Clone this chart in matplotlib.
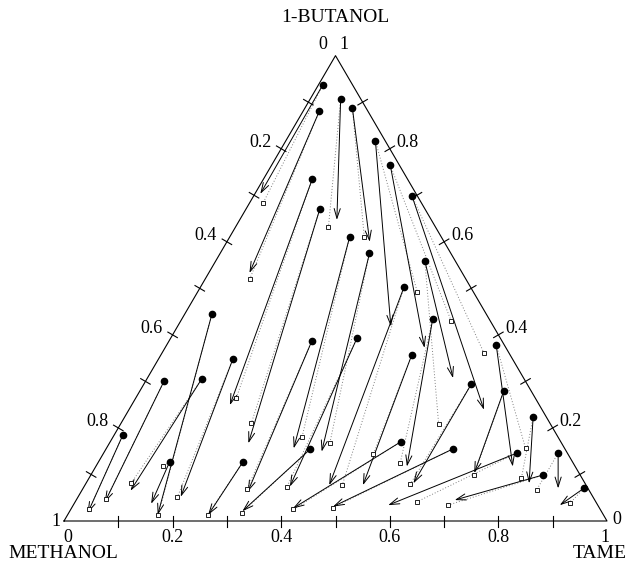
import numpy as np
import matplotlib.pyplot as plt

plt.rcParams['font.family'] = ['Liberation Serif', 'DejaVu Serif']

# mole fractions: (TAME, 1-BUTANOL); methanol = 1 - both
# start = filled dots, end = arrow heads, calc = open squares
start_tame = [0.008, 0.056, 0.087, 0.030, 0.165, 0.219, 0.292, 0.090, 0.136,
              0.221, 0.275, 0.385, 0.375, 0.462, 0.263, 0.343, 0.462, 0.376,
              0.535, 0.607, 0.603, 0.670, 0.752, 0.639, 0.761, 0.837, 0.833,
              0.922, 0.050, 0.034, 0.101, 0.137, 0.016, 0.131, 0.266]
start_but = [0.938, 0.907, 0.888, 0.880, 0.817, 0.764, 0.698, 0.734, 0.670,
             0.610, 0.575, 0.559, 0.502, 0.434, 0.387, 0.394, 0.357, 0.154,
             0.170, 0.378, 0.294, 0.280, 0.224, 0.155, 0.146, 0.146, 0.099,
             0.070, 0.445, 0.300, 0.306, 0.348, 0.185, 0.127, 0.126]
end_tame = [0.010, 0.179, 0.263, 0.075, 0.393, 0.478, 0.654, 0.181, 0.256,
            0.345, 0.400, 0.563, 0.450, 0.573, 0.307, 0.379, 0.512, 0.318,
            0.408, 0.768, 0.603, 0.704, 0.816, 0.480, 0.580, 0.875, 0.697,
            0.896, 0.166, 0.055, 0.090, 0.189, 0.035, 0.142, 0.259]
end_but = [0.703, 0.647, 0.600, 0.533, 0.418, 0.372, 0.239, 0.249, 0.167,
           0.156, 0.149, 0.307, 0.077, 0.117, 0.063, 0.074, 0.077, 0.021,
           0.027, 0.117, 0.081, 0.103, 0.081, 0.031, 0.034, 0.070, 0.045,
           0.034, 0.013, 0.040, 0.065, 0.052, 0.017, 0.037, 0.013]
calc_tame = [0.025, 0.171, 0.248, 0.082, 0.404, 0.498, 0.592, 0.185, 0.240,
             0.348, 0.406, 0.586, 0.474, 0.557, 0.303, 0.374, 0.498, 0.318,
             0.410, 0.772, 0.598, 0.706, 0.796, 0.481, 0.629, 0.837, 0.690,
             0.913, 0.167, 0.054, 0.083, 0.183, 0.034, 0.124, 0.258]
calc_but = [0.683, 0.632, 0.610, 0.520, 0.493, 0.430, 0.362, 0.265, 0.210,
            0.181, 0.167, 0.208, 0.077, 0.124, 0.068, 0.072, 0.143, 0.018,
            0.025, 0.156, 0.079, 0.099, 0.093, 0.029, 0.041, 0.067, 0.034,
            0.039, 0.013, 0.047, 0.081, 0.052, 0.025, 0.118, 0.013]

tick_vals = [0.1, 0.2, 0.3, 0.4, 0.5, 0.6, 0.7, 0.8, 0.9]
label_vals = [0.2, 0.4, 0.6, 0.8]

H = 0.857  # height of the drawn triangle relative to its base
PX = 1 / 543.0  # one pixel in data units


def xy(tame, but):
    tame = np.asarray(tame, dtype=float)
    but = np.asarray(but, dtype=float)
    return tame + but / 2, but * H


fig = plt.figure(figsize=(6.34, 5.69), dpi=100)
ax = fig.add_axes([0, 0, 1, 1])
ax.set_xlim(-64 * PX, 570 * PX)
ax.set_ylim(-48 * PX, 521 * PX)
ax.axis('off')

# triangle frame
ax.plot([0, 1, 0.5, 0], [0, 0, H, 0], color='k', lw=0.8)

# ticks crossing each side
tl = 5.5 * PX
nl = np.hypot(0.5, H)
pl = np.array([H, -0.5]) / nl   # normal to left side
pr = np.array([H, 0.5]) / nl    # normal to right side
for v in tick_vals:
    ax.plot([v, v], [-tl, tl], color='k', lw=0.8)
    x0, y0 = xy(0, 1 - v)
    ax.plot([x0 - tl * pl[0], x0 + tl * pl[0]], [y0 - tl * pl[1], y0 + tl * pl[1]], color='k', lw=0.8)
    x1, y1 = xy(1 - v, v)
    ax.plot([x1 - tl * pr[0], x1 + tl * pr[0]], [y1 - tl * pr[1], y1 + tl * pr[1]], color='k', lw=0.8)

fs = 13
# bottom axis (TAME)
for v, s in zip([0, 0.2, 0.4, 0.6, 0.8, 1], ['0', '0.2', '0.4', '0.6', '0.8', '1']):
    ax.text(v + (4 * PX if v == 0 else 0) - (2 * PX if v == 1 else 0), -17 * PX, s,
            ha='center', va='center', fontsize=fs)
# left side (METHANOL)
for v in label_vals:
    x0, y0 = xy(0, 1 - v)
    ax.text(x0 - 21 * PX, y0 + 6 * PX, f'{v:.1f}', ha='center', va='center', fontsize=fs)
# right side (1-BUTANOL)
for v in label_vals:
    x1, y1 = xy(1 - v, v)
    ax.text(x1 + 18 * PX, y1 + 6 * PX, f'{v:.1f}', ha='center', va='center', fontsize=fs)
ax.text(0.5 - 13 * PX, H + 11 * PX, '0', ha='center', va='center', fontsize=fs)
ax.text(0.5 + 8 * PX, H + 11 * PX, '1', ha='center', va='center', fontsize=fs)
ax.text(-8 * PX, 0, '1', ha='center', va='center', fontsize=fs)
ax.text(1 + 10 * PX, 1 * PX, '0', ha='center', va='center', fontsize=fs)

# component names
ax.text(0.5, H + 38 * PX, '1-BUTANOL', ha='center', va='center', fontsize=14)
ax.text(-56 * PX, -33 * PX, 'METHANOL', ha='left', va='center', fontsize=14)
ax.text(1 + 20 * PX, -33 * PX, 'TAME', ha='right', va='center', fontsize=14)

sx, sy = xy(start_tame, start_but)
ex, ey = xy(end_tame, end_but)
cx, cy = xy(calc_tame, calc_but)

# dotted lines to calculated compositions
for i in range(len(sx)):
    ax.plot([sx[i], cx[i]], [sy[i], cy[i]], ls=(0, (1, 2)), color='0.5', lw=0.7, zorder=2)

# measured arrows
for i in range(len(sx)):
    ax.annotate('', xy=(ex[i], ey[i]), xytext=(sx[i], sy[i]),
                arrowprops=dict(arrowstyle='->,head_length=0.7,head_width=0.22',
                                color='k', lw=0.7, shrinkA=0, shrinkB=0,
                                mutation_scale=10), zorder=3)

ax.plot(cx, cy, 's', ms=3.0, mfc='white', mec='k', mew=0.6, zorder=4)
ax.plot(sx, sy, 'o', ms=4.5, color='k', zorder=5)

fig.savefig('out.png', dpi=100)
